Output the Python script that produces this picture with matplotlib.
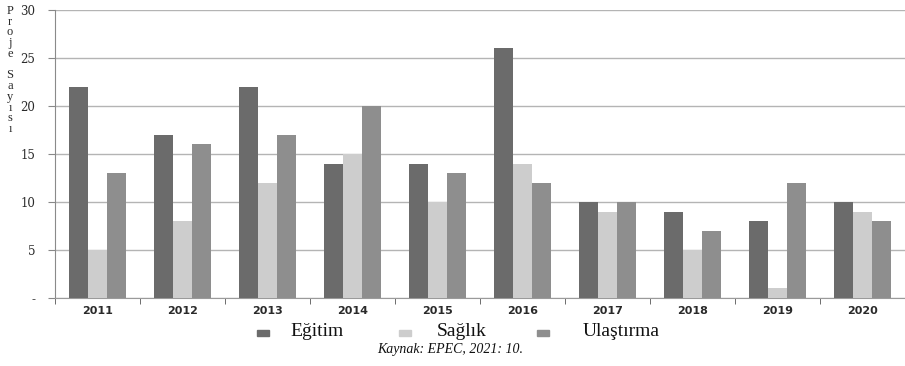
#!/usr/bin/env python3
# Proje sayıları (2011-2020): Eğitim / Sağlık / Ulaştırma
import matplotlib
matplotlib.use("Agg")
import matplotlib.pyplot as plt
from matplotlib.patches import Rectangle
import numpy as np

# Veri
years = ["2011", "2012", "2013", "2014", "2015", "2016", "2017", "2018", "2019", "2020"]
egitim = [22, 17, 22, 14, 14, 26, 10, 9, 8, 10]
saglik = [5, 8, 12, 15, 10, 14, 9, 5, 1, 9]
ulastirma = [13, 16, 17, 20, 13, 12, 10, 7, 12, 8]
series_names = ["Eğitim", "Sağlık", "Ulaştırma"]
yticks = [0, 5, 10, 15, 20, 25, 30]
ytick_labels = ["-", "5", "10", "15", "20", "25", "30"]

# Renkler
C_EGT = "#6b6b6b"
C_SAG = "#cdcdcd"
C_ULS = "#8e8e8e"
GRID = "#b4b4b4"
INK = "#2a2a2a"

W, H = 905, 366
fig = plt.figure(figsize=(W/100, H/100), dpi=100)
ax = fig.add_axes([55/W, 1-298/H, 850/W, 288/H])

x = np.arange(len(years))
w = 0.222
ax.bar(x - w, egitim, w, color=C_EGT, zorder=3)
ax.bar(x, saglik, w, color=C_SAG, zorder=3)
ax.bar(x + w, ulastirma, w, color=C_ULS, zorder=3)

ax.set_xlim(-0.5, 9.43)
ax.set_ylim(0, 30)

# y ekseni
ax.set_yticks(yticks)
ax.set_yticklabels(ytick_labels, fontsize=8.5, family="DejaVu Serif", color=INK)
ax.tick_params(axis="y", length=5, color="#888888", pad=9)
ax.yaxis.grid(True, color=GRID, lw=1.0, zorder=0)

# x ekseni: etiketler ortada, çentikler grup sınırlarında
ax.set_xticks(x)
ax.set_xticklabels(years, fontsize=8, family="DejaVu Sans", color=INK, fontweight="semibold")
ax.tick_params(axis="x", which="major", length=0, pad=6)
ax.set_xticks(np.arange(-0.5, len(years), 1.0), minor=True)
ax.tick_params(axis="x", which="minor", length=4, color="#555555", direction="out")

for s in ["top", "right"]:
    ax.spines[s].set_visible(False)
ax.spines["left"].set_color("#8a8a8a")
ax.spines["bottom"].set_color("#9a9a9a")

# dikey y etiketi (harf harf)
fig.text(10/W, 1-5/H, "\n".join("Proje") + "\n\n" + "\n".join("Sayısı"),
         ha="center", va="top", fontsize=9, family="Liberation Serif",
         linespacing=0.86, color=INK)

# lejant (elle yerleştirildi)
legend_colors = [C_EGT, C_SAG, C_ULS]
marker_x = [257, 399, 537]
text_x = [290, 437, 583]
for name, c, mx, tx in zip(series_names, legend_colors, marker_x, text_x):
    fig.patches.append(Rectangle((mx/W, 1-336/H), 12/W, 6/H, color=c,
                                 transform=fig.transFigure, figure=fig))
    fig.text(tx/W, 1-332/H, name, ha="left", va="center", fontsize=14,
             family="Liberation Serif", color="#111111")

fig.text(450/W, 1-350/H, "Kaynak: EPEC, 2021: 10.", ha="center", va="center",
         fontsize=10, family="Liberation Serif", style="italic", color="#111111")

fig.savefig("out.png", dpi=100, facecolor="white")
